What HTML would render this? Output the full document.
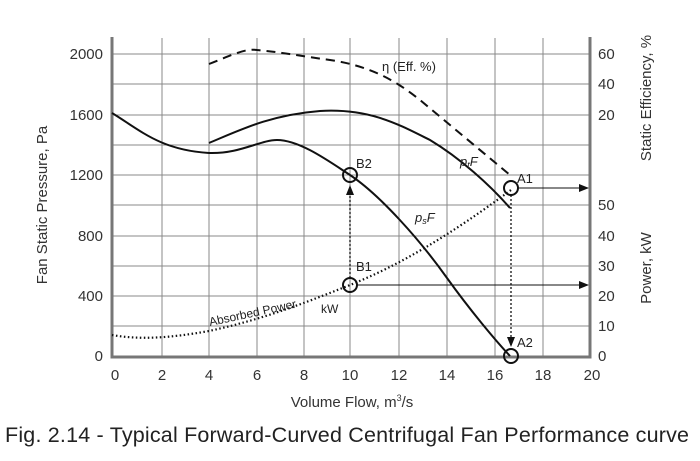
<!DOCTYPE html>
<html><head><meta charset="utf-8"><style>
body{margin:0;background:#fff;width:700px;height:456px;overflow:hidden}
svg{font-family:"Liberation Sans",sans-serif}
</style></head><body>
<svg width="700" height="456" viewBox="0 0 700 456">
<defs>
<marker id="ah" markerWidth="10" markerHeight="8" refX="9" refY="4" orient="auto" markerUnits="userSpaceOnUse"><path d="M0,0 L10,4 L0,8 Z" fill="#111"/></marker>
</defs>
<g stroke="#888" stroke-width="1">
<line x1="162" y1="38" x2="162" y2="356"/><line x1="209" y1="38" x2="209" y2="356"/>
<line x1="257" y1="38" x2="257" y2="356"/><line x1="304" y1="38" x2="304" y2="356"/>
<line x1="350" y1="38" x2="350" y2="356"/><line x1="399" y1="38" x2="399" y2="356"/>
<line x1="447" y1="38" x2="447" y2="356"/><line x1="495" y1="38" x2="495" y2="356"/>
<line x1="543" y1="38" x2="543" y2="356"/>
<line x1="112" y1="54" x2="590" y2="54"/><line x1="112" y1="84" x2="590" y2="84"/>
<line x1="112" y1="115" x2="590" y2="115"/><line x1="112" y1="145" x2="590" y2="145"/>
<line x1="112" y1="175" x2="590" y2="175"/><line x1="112" y1="205" x2="590" y2="205"/>
<line x1="112" y1="236" x2="590" y2="236"/><line x1="112" y1="266" x2="590" y2="266"/>
<line x1="112" y1="296" x2="590" y2="296"/><line x1="112" y1="326" x2="590" y2="326"/>
</g>
<g stroke="#777" stroke-width="3" fill="none">
<path d="M112,37 V357 H590 V37"/>
</g>
<g fill="#333" font-size="15" text-anchor="end">
<text x="103" y="59">2000</text><text x="103" y="120">1600</text><text x="103" y="180">1200</text>
<text x="103" y="241">800</text><text x="103" y="301">400</text><text x="103" y="361">0</text>
</g>
<g fill="#333" font-size="15" text-anchor="middle">
<text x="115" y="380">0</text><text x="162" y="380">2</text><text x="209" y="380">4</text><text x="257" y="380">6</text>
<text x="304" y="380">8</text><text x="350" y="380">10</text><text x="399" y="380">12</text><text x="447" y="380">14</text>
<text x="495" y="380">16</text><text x="543" y="380">18</text><text x="592" y="380">20</text>
</g>
<g fill="#333" font-size="15">
<text x="598" y="59">60</text><text x="598" y="89">40</text><text x="598" y="120">20</text>
<text x="598" y="210">50</text><text x="598" y="241">40</text><text x="598" y="271">30</text>
<text x="598" y="301">20</text><text x="598" y="331">10</text><text x="598" y="361">0</text>
</g>
<text transform="translate(47,205) rotate(-90)" text-anchor="middle" font-size="15" fill="#333">Fan Static Pressure, Pa</text>
<text transform="translate(651,98) rotate(-90)" text-anchor="middle" font-size="15" fill="#333">Static Efficiency, %</text>
<text transform="translate(651,268) rotate(-90)" text-anchor="middle" font-size="15" fill="#333">Power, kW</text>
<text x="352" y="407" text-anchor="middle" font-size="15" fill="#333">Volume Flow, m<tspan font-size="9" dy="-6">3</tspan><tspan dy="6">/s</tspan></text>
<text x="5" y="442" font-size="21.5" fill="#222" textLength="684">Fig. 2.14 - Typical Forward-Curved Centrifugal Fan Performance curve</text>
<path d="M209,64 C230,56 245,48 257,50 C280,52 300,56 330,60 C370,66 395,80 420,100 C450,125 480,150 510,175" fill="none" stroke="#111" stroke-width="2" stroke-dasharray="9,6"/>
<path d="M209,143 C240,130 270,115 320,111 C370,108 400,125 430,140 C460,158 490,185 510,208" fill="none" stroke="#111" stroke-width="2"/>
<path d="M112,113 C140,130 160,150 209,153 C240,154 260,140 277,140 C300,140 330,162 350,175 C380,195 420,240 447,278 C470,310 495,340 510,356" fill="none" stroke="#111" stroke-width="2"/>
<path d="M112,335 C140,340 170,338 209,331 C260,320 300,305 350,285 C400,265 450,235 511,190" fill="none" stroke="#111" stroke-width="2.2" stroke-dasharray="1.5,2.5"/>
<line x1="518" y1="188" x2="588" y2="188" stroke="#111" stroke-width="1" marker-end="url(#ah)"/>
<line x1="357" y1="285" x2="588" y2="285" stroke="#111" stroke-width="1" marker-end="url(#ah)"/>
<line x1="350" y1="278" x2="350" y2="186" stroke="#111" stroke-width="1.3" stroke-dasharray="2,2" marker-end="url(#ah)"/>
<line x1="511" y1="195" x2="511" y2="346" stroke="#111" stroke-width="1.3" stroke-dasharray="2,2" marker-end="url(#ah)"/>
<g fill="none" stroke="#111" stroke-width="2">
<circle cx="350" cy="175" r="7"/><circle cx="350" cy="285" r="7"/>
<circle cx="511" cy="188" r="7"/><circle cx="511" cy="356" r="7"/>
</g>
<g fill="#222" font-size="13">
<text x="356" y="168">B2</text><text x="356" y="271">B1</text>
<text x="517" y="183">A1</text><text x="517" y="347">A2</text>
<text x="382" y="71">η (Eff. %)</text>
<text x="460" y="166" font-style="italic">p<tspan font-size="9" dy="2">t</tspan><tspan dy="-2">F</tspan></text>
<text x="415" y="222" font-style="italic">p<tspan font-size="9" dy="2">s</tspan><tspan dy="-2">F</tspan></text>
<text x="321" y="313" font-size="12">kW</text>
<text transform="translate(210,326) rotate(-12)" font-size="12">Absorbed Power</text>
</g>
</svg>
</body></html>
